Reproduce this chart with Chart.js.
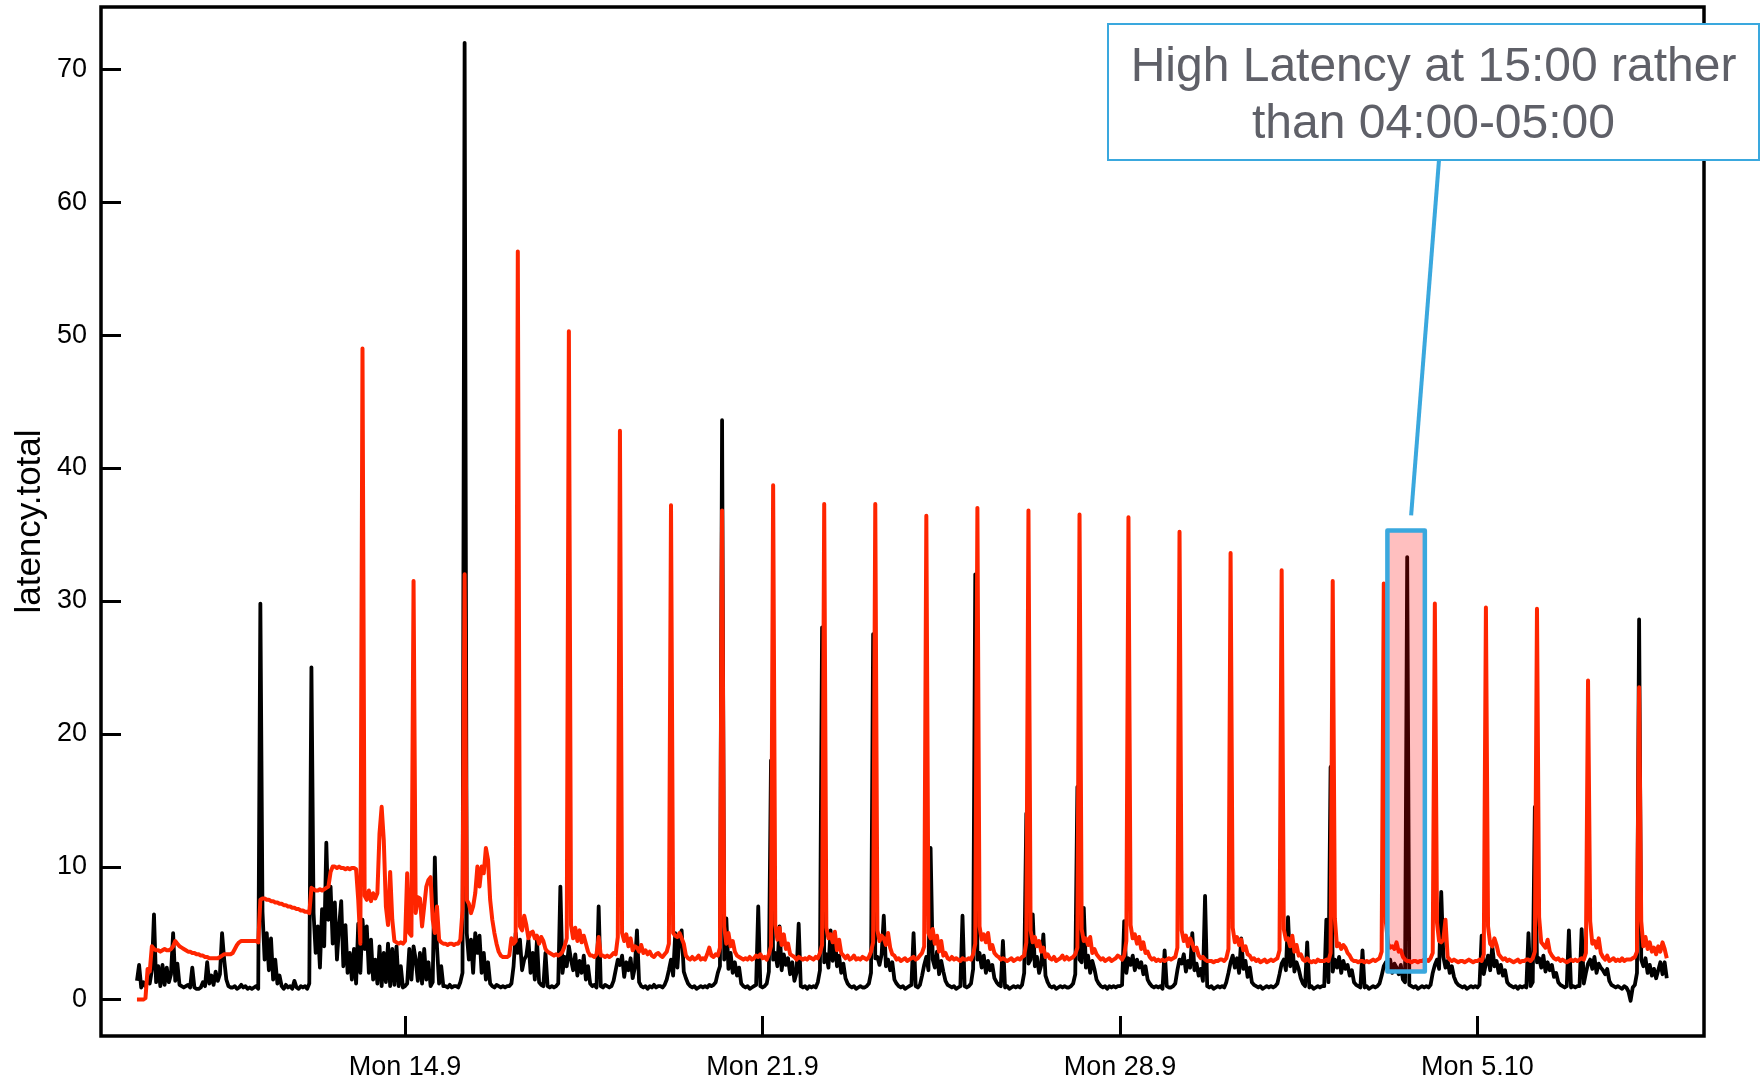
<!DOCTYPE html>
<html>
<head>
<meta charset="utf-8">
<title>latency.total</title>
<script src="https://cdn.jsdelivr.net/npm/chart.js@4.4.1/dist/chart.umd.min.js"></script>
<style>
  html, body { margin: 0; padding: 0; background: #fff; }
  canvas { display: block; }
</style>
</head>
<body>
<canvas id="latencyChart" width="1764" height="1079"></canvas>
<script>
// one row per day, hourly samples; day 0 is Mon 14.9, first row starts Tue 8.9 18:00
const firstDay = -6;
const firstHour = 18;

const redLatency = [
  [0, 0, 0, 0, 0.1, 2.3],
  [2.1, 4.0, 3.8, 3.7, 3.7, 3.6,  3.7, 3.8, 3.7, 3.7, 3.8, 4.0,  4.4, 4.2, 4.0, 3.9, 3.8, 3.7,  3.6, 3.6, 3.5, 3.5, 3.4, 3.4],
  [3.3, 3.3, 3.2, 3.2, 3.1, 3.1,  3.1, 3.1, 3.1, 3.2, 3.3, 3.4,  3.4, 3.4, 3.4, 3.5, 3.8, 4.1,  4.3, 4.4, 4.4, 4.4, 4.4, 4.4],
  [4.4, 4.4, 4.4, 4.3, 7.5, 7.6,  7.6, 7.5, 7.5, 7.4, 7.4, 7.3,  7.3, 7.2, 7.2, 7.1, 7.1, 7.0,  7.0, 6.9, 6.9, 6.8, 6.8, 6.7],
  [6.7, 6.6, 6.6, 6.5, 8.4, 8.3,  8.2, 8.2, 8.3, 8.2, 8.3, 8.4,  8.5, 9.6, 10.0, 10.0, 9.9, 10.0,  9.9, 9.9, 9.8, 9.9, 9.8, 9.9],
  [9.9, 9.8, 7.5, 4.2, 49.0, 7.8,  7.5, 8.2, 7.4, 8.0, 7.6, 8.0,  12.5, 14.5, 12.0, 7.0, 5.6, 9.6,  6.0, 4.4, 4.3, 4.2, 4.3, 4.2],
  [4.4, 9.5, 5.0, 4.8, 31.5, 6.5,  7.7, 7.6, 5.5, 7.0, 8.5, 9.0,  9.2, 6.0, 5.0, 7.0, 4.5, 4.3,  4.2, 4.2, 4.1, 4.2, 4.2, 4.1],
  [4.2, 4.2, 4.5, 6.7, 32.0, 7.5,  7.2, 6.5, 7.0, 8.0, 10.0, 8.5,  10.0, 9.5, 11.4, 10.5, 7.5, 6.0,  5.0, 4.2, 3.6, 3.3, 3.2, 3.2],
  [3.2, 3.3, 4.6, 4.2, 4.4, 56.3,  5.5, 5.2, 6.3, 5.6, 4.6, 5.0,  5.1, 4.6, 4.8, 4.2, 4.7, 4.4,  3.8, 3.6, 3.5, 3.4, 3.3, 3.4],
  [3.3, 3.4, 3.6, 4.0, 4.6, 50.3,  5.6, 4.6, 5.4, 4.4, 5.2, 4.3,  4.8, 4.2, 3.6, 3.3, 3.3, 3.2,  3.4, 4.7, 3.3, 3.3, 3.2, 3.3],
  [3.2, 3.3, 3.5, 3.4, 4.7, 42.8,  5.0, 4.4, 4.9, 4.0, 4.6, 3.7,  4.0, 3.9, 3.6, 4.1, 3.5, 3.7,  3.4, 3.6, 3.3, 3.2, 3.4, 3.5],
  [3.3, 3.2, 3.4, 3.6, 4.2, 37.2,  5.0, 4.8, 4.7, 5.0, 4.6, 4.2,  3.3, 3.1, 3.0, 3.2, 3.0, 3.1,  3.3, 3.0, 3.1, 3.0, 3.4, 3.9],
  [3.3, 3.2, 3.4, 3.3, 3.9, 36.8,  5.5, 4.2, 5.0, 4.0, 4.4, 3.6,  3.3, 3.2, 3.1, 3.0, 3.1, 3.0,  3.2, 3.0, 3.1, 3.3, 3.2, 3.4],
  [3.1, 3.2, 3.0, 3.4, 4.0, 38.7,  5.6, 4.5, 5.4, 4.1, 4.9, 3.8,  4.2, 3.4, 3.3, 3.2, 3.0, 3.2,  3.1, 3.0, 3.1, 3.0, 3.2, 3.1],
  [3.0, 3.2, 3.1, 3.5, 4.1, 37.3,  5.4, 4.6, 4.9, 4.3, 5.1, 3.7,  4.5, 3.5, 3.3, 3.1, 3.3, 3.0,  3.1, 3.3, 3.0, 3.1, 3.0, 3.2],
  [3.1, 3.0, 3.2, 3.6, 4.3, 37.3,  5.2, 4.4, 4.8, 4.6, 4.1, 5.0,  3.9, 3.4, 3.3, 3.0, 3.1, 2.9,  3.0, 3.1, 2.9, 3.0, 3.1, 3.2],
  [3.0, 3.1, 3.3, 3.5, 4.0, 36.4,  5.0, 4.6, 5.3, 4.2, 4.8, 3.6,  4.4, 3.3, 3.5, 3.1, 3.0, 3.2,  3.0, 3.1, 3.0, 2.9, 3.1, 3.0],
  [3.0, 3.1, 3.0, 3.4, 4.2, 37.0,  5.5, 4.5, 4.9, 4.3, 5.0, 3.8,  4.1, 3.5, 3.3, 3.2, 3.0, 3.1,  3.0, 2.9, 3.0, 3.1, 2.9, 3.0],
  [3.1, 3.0, 3.2, 3.3, 4.3, 36.8,  5.2, 4.3, 4.7, 4.0, 4.4, 3.6,  3.9, 3.2, 3.4, 3.1, 3.0, 3.2,  2.9, 3.0, 3.1, 3.3, 3.0, 3.2],
  [3.0, 3.1, 3.2, 3.4, 3.9, 36.5,  5.3, 4.4, 4.6, 4.1, 4.7, 3.5,  3.8, 3.4, 3.2, 3.0, 3.1, 2.9,  3.0, 3.1, 2.9, 3.0, 3.1, 3.3],
  [3.2, 3.0, 3.3, 4.4, 36.3, 5.6,  4.6, 4.9, 4.2, 4.7, 3.8, 4.3,  3.5, 3.6, 3.2, 3.0, 3.1, 2.9,  3.0, 2.9, 3.0, 2.9, 3.0, 3.1],
  [3.0, 3.1, 3.2, 3.9, 35.2, 5.2,  4.4, 4.8, 4.0, 4.6, 4.2, 3.7,  3.9, 3.3, 3.1, 3.2, 3.0, 2.9,  2.9, 2.9, 2.8, 2.9, 2.9, 3.0],
  [3.0, 2.9, 3.1, 3.8, 33.6, 5.4,  4.3, 4.7, 4.1, 4.5, 3.7, 4.0,  3.4, 3.3, 3.0, 3.1, 2.9, 3.0,  2.8, 2.9, 3.0, 2.8, 2.9, 3.0],
  [2.9, 3.0, 3.1, 3.7, 32.3, 5.3,  4.5, 4.6, 4.0, 4.8, 3.6, 4.1,  3.3, 3.4, 3.0, 2.9, 3.1, 2.9,  2.8, 2.9, 2.8, 3.0, 2.9, 2.9],
  [2.9, 3.0, 2.9, 3.5, 31.5, 6.1,  4.0, 4.2, 3.8, 4.1, 3.9, 3.5,  3.3, 3.0, 2.9, 2.9, 2.8, 2.9,  2.9, 2.8, 2.9, 2.8, 2.9, 3.0],
  [2.9, 3.0, 3.1, 3.6, 31.3, 5.8,  4.2, 3.9, 4.0, 3.8, 4.3, 3.6,  3.7, 3.2, 3.0, 2.9, 2.9, 2.8,  2.9, 2.9, 2.8, 2.9, 2.9, 3.0],
  [3.0, 2.9, 3.1, 3.5, 29.8, 5.8,  4.4, 4.3, 4.5, 6.0, 3.2, 3.0,  2.9, 3.0, 2.9, 2.8, 2.9, 2.9,  2.8, 2.9, 3.0, 2.9, 2.8, 2.9],
  [2.9, 3.0, 2.9, 3.4, 29.5, 5.5,  4.2, 4.0, 4.6, 4.1, 3.4, 3.2,  3.0, 3.1, 2.9, 3.0, 2.9, 2.8,  2.9, 3.0, 2.8, 2.9, 2.9, 3.0],
  [3.0, 2.9, 3.1, 3.6, 29.4, 6.2,  4.3, 4.1, 3.9, 4.5, 3.6, 3.3,  3.1, 3.0, 3.1, 2.9, 3.0, 2.9,  2.8, 2.9, 3.0, 2.9, 3.0, 2.9],
  [3.0, 3.1, 3.0, 3.5, 24.0, 5.9,  4.2, 4.4, 3.9, 4.6, 3.5, 3.2,  3.0, 3.3, 2.9, 3.0, 3.1, 2.9,  3.0, 2.9, 3.1, 2.9, 3.0, 3.0],
  [3.0, 3.1, 3.2, 3.6, 23.5, 5.9,  4.0, 4.7, 3.8, 4.3, 3.6, 3.9,  3.4, 4.0, 3.6, 4.3, 3.8, 3.1]
];

const blackLatency = [
  [1.4, 2.6, 0.9, 1.3, 1.0, 1.6],
  [1.2, 2.2, 6.4, 1.3, 2.5, 1.0,  2.6, 1.1, 2.4, 1.3, 1.9, 5.0,  1.4, 2.7, 1.1, 1.0, 0.9, 1.0,  1.1, 0.9, 2.4, 0.9, 0.8, 0.8],
  [0.9, 1.3, 1.0, 2.8, 1.2, 1.8,  1.1, 2.1, 1.4, 1.9, 5.0, 3.0,  1.5, 1.0, 0.9, 0.9, 1.0, 0.8,  0.9, 1.1, 0.9, 1.0, 0.8, 0.9],
  [0.8, 0.9, 1.0, 0.8, 29.8, 6.6,  3.0, 5.0, 2.2, 4.6, 1.5, 3.0,  1.2, 1.8, 1.0, 0.8, 1.1, 0.9,  1.0, 0.8, 1.4, 0.9, 0.8, 1.0],
  [0.9, 1.0, 0.8, 1.2, 25.0, 6.5,  3.5, 5.5, 2.4, 6.8, 4.0, 11.8,  6.0, 8.5, 4.2, 7.3, 3.0, 5.5,  7.4, 2.5, 5.6, 2.0, 3.5, 1.5],
  [3.8, 1.2, 5.7, 2.0, 6.0, 3.8,  5.5, 2.0, 4.5, 1.5, 3.0, 1.2,  4.0, 1.0, 3.5, 1.3, 4.2, 1.0,  3.8, 1.1, 4.0, 1.0, 2.5, 0.9],
  [1.0, 1.2, 3.8, 1.5, 4.0, 3.0,  1.4, 3.5, 1.2, 3.8, 1.5, 2.8,  1.0, 1.3, 10.7, 4.0, 1.2, 2.5,  1.0, 1.0, 0.9, 1.1, 0.9, 1.0],
  [1.0, 0.9, 1.3, 2.0, 72.0, 5.0,  3.0, 4.5, 2.0, 5.0, 3.5, 4.8,  2.0, 3.5, 1.5, 2.8, 1.2, 1.0,  0.9, 1.1, 1.0, 0.9, 1.0, 0.9],
  [1.0, 1.0, 1.2, 2.5, 5.0, 3.5,  4.5, 2.2, 3.0, 3.3, 4.5, 2.0,  3.5, 1.5, 4.5, 1.3, 1.1, 1.0,  3.5, 1.0, 0.9, 1.0, 0.9, 1.0],
  [1.2, 8.5, 2.0, 3.2, 2.5, 4.0,  3.0, 2.2, 3.4, 1.8, 2.9, 2.0,  3.3, 1.5, 2.5, 1.2, 1.0, 1.1,  0.9, 7.0, 1.0, 0.9, 1.1, 1.0],
  [0.9, 1.0, 1.4, 2.2, 3.0, 2.6,  3.3, 1.7, 2.8, 2.2, 3.1, 1.6,  2.4, 5.2, 1.3, 1.0, 0.9, 1.0,  0.8, 1.0, 0.9, 1.1, 0.9, 1.0],
  [1.0, 0.9, 1.1, 1.5, 2.2, 3.0,  1.8, 5.0, 2.4, 4.8, 5.2, 2.1,  1.6, 1.2, 1.0, 0.9, 1.0, 0.8,  0.9, 1.0, 0.9, 1.0, 0.9, 1.1],
  [1.0, 1.1, 1.3, 2.0, 2.5, 43.6,  3.0, 6.1, 2.3, 3.5, 2.0, 2.8,  1.8, 2.4, 1.2, 1.0, 0.9, 1.0,  0.8, 0.9, 1.0, 1.1, 7.0, 1.0],
  [0.9, 1.0, 1.2, 2.1, 18.0, 3.0,  3.5, 2.5, 5.5, 2.2, 3.4, 2.6,  3.1, 1.9, 2.8, 1.4, 2.0, 5.7,  1.0, 0.9, 1.0, 0.8, 1.0, 0.9],
  [1.0, 0.9, 1.3, 2.2, 28.0, 2.8,  3.4, 2.4, 5.2, 2.9, 5.0, 2.5,  3.3, 2.0, 2.7, 1.6, 1.2, 1.0,  0.9, 1.0, 0.8, 0.9, 1.0, 0.9],
  [0.9, 1.0, 1.2, 2.0, 27.5, 3.1,  3.2, 2.6, 3.4, 6.3, 2.5, 3.0,  2.2, 2.8, 1.5, 1.2, 1.0, 0.9,  1.0, 0.8, 0.9, 1.0, 1.1, 5.0],
  [1.0, 0.9, 1.1, 1.8, 2.6, 3.2,  2.2, 11.4, 3.0, 2.4, 3.6, 1.9,  2.9, 2.1, 1.4, 1.1, 1.0, 0.9,  1.0, 0.8, 0.9, 1.0, 6.3, 1.0],
  [0.9, 1.0, 1.2, 2.3, 32.0, 3.0,  3.5, 2.4, 3.3, 2.0, 2.9, 2.2,  2.6, 1.6, 1.3, 1.1, 1.0, 4.4,  0.9, 1.0, 0.8, 0.9, 1.0, 0.9],
  [1.0, 0.9, 1.1, 2.0, 14.0, 2.7,  3.0, 6.4, 2.5, 3.2, 2.0, 2.6,  4.9, 1.8, 1.3, 1.0, 0.9, 1.0,  0.8, 0.9, 1.0, 0.9, 1.0, 0.9],
  [0.9, 1.0, 1.2, 1.9, 16.0, 3.0,  2.8, 6.9, 2.4, 3.3, 2.0, 2.9,  2.3, 1.5, 1.2, 1.0, 0.9, 1.0,  0.8, 1.0, 0.9, 1.0, 0.9, 1.0],
  [1.0, 1.1, 5.9, 2.0, 3.1, 2.6,  3.3, 2.2, 3.0, 2.4, 2.8, 1.9,  2.5, 1.5, 1.2, 1.0, 0.9, 1.0,  0.9, 1.0, 0.8, 3.7, 1.0, 0.9],
  [0.9, 1.0, 1.2, 2.2, 3.0, 2.7,  3.4, 2.1, 2.9, 2.4, 5.0, 2.2,  2.7, 1.8, 2.3, 1.4, 7.8, 1.0,  0.9, 1.0, 0.8, 0.9, 1.0, 0.9],
  [1.0, 0.9, 1.3, 2.0, 2.8, 3.3,  2.4, 3.1, 2.0, 4.6, 2.3, 2.9,  1.7, 2.4, 1.3, 1.1, 1.0, 0.9,  1.0, 0.8, 0.9, 1.0, 0.9, 1.0],
  [0.9, 1.0, 1.2, 1.9, 2.7, 3.0,  2.2, 6.2, 2.5, 4.2, 2.1, 2.8,  2.3, 1.6, 1.2, 1.0, 4.3, 0.9,  1.0, 0.8, 0.9, 1.0, 0.9, 1.0],
  [1.0, 6.0, 1.3, 17.5, 2.1, 3.0,  2.4, 3.2, 2.0, 2.9, 2.3, 2.6,  1.8, 2.2, 1.3, 1.1, 1.0, 0.9,  3.7, 0.9, 1.0, 0.8, 0.9, 1.0],
  [0.9, 1.0, 1.2, 1.8, 2.5, 2.8,  2.2, 3.0, 2.0, 2.7, 2.4, 1.9,  2.6, 1.5, 1.3, 33.3, 1.1, 1.0,  0.9, 1.0, 0.8, 0.9, 1.0, 0.9],
  [1.0, 0.9, 1.1, 2.0, 2.6, 3.0,  2.3, 8.1, 3.2, 2.4, 2.9, 2.0,  2.5, 1.7, 1.3, 1.1, 1.0, 0.9,  1.0, 0.8, 0.9, 1.0, 0.9, 1.0],
  [0.9, 1.1, 4.8, 1.9, 2.7, 3.3,  2.2, 4.0, 2.5, 2.9, 2.0, 2.6,  1.8, 2.2, 1.3, 1.1, 1.0, 0.9,  1.0, 0.8, 1.0, 0.9, 1.0, 0.9],
  [5.0, 1.0, 1.3, 14.5, 2.8, 3.1,  2.4, 3.3, 2.1, 2.8, 2.2, 2.6,  1.7, 2.0, 1.3, 1.1, 1.0, 0.9,  1.0, 5.2, 0.9, 1.0, 0.9, 1.0],
  [1.0, 5.3, 1.2, 2.0, 2.7, 3.0,  2.3, 3.2, 2.0, 2.7, 2.4, 2.2,  1.9, 2.3, 1.4, 1.1, 1.0, 0.9,  1.0, 0.9, 0.8, 1.0, 0.9, 0.6],
  [-0.1, 0.9, 1.1, 2.0, 28.6, 3.0,  2.5, 3.1, 2.0, 2.6, 1.8, 2.3,  1.6, 2.2, 2.8, 1.9, 2.8, 1.6]
];

const weekdays = ['Sun', 'Mon', 'Tue', 'Wed', 'Thu', 'Fri', 'Sat'];
const hoursShown = [-142.9, 610.5];     // x axis range, hours from Mon 14.9 00:00
const latencyShown = [-2.75, 74.7];
const highlightHours = [461.7, 479.3];  // Sat 3.10, around 15:00
const highlightLatency = [2.1, 35.3];
const noteLines = ['High Latency at 15:00 rather', 'than 04:00-05:00'];

const blue = '#3aa8de';
const fontFamily = '"Liberation Sans", Arial, Helvetica, sans-serif';

function toPoints(rows) {
  const pts = [];
  rows.forEach((row, i) => {
    const start = (firstDay + i) * 24 + (i === 0 ? firstHour : 0);
    row.forEach((v, j) => pts.push({x: start + j, y: v}));
  });
  return pts;
}

function dayLabel(value) {
  if (value % 168 !== 0) return null;
  const d = new Date(2015, 8, 14 + value / 24);
  return weekdays[d.getDay()] + ' ' + d.getDate() + '.' + (d.getMonth() + 1);
}

const decorations = {
  id: 'decorations',
  afterDatasetsDraw(chart) {
    const {ctx, chartArea: a} = chart;
    const x = chart.scales.x, y = chart.scales.y;
    ctx.save();

    // highlighted hour
    const hx0 = x.getPixelForValue(highlightHours[0]);
    const hx1 = x.getPixelForValue(highlightHours[1]);
    const hy0 = y.getPixelForValue(highlightLatency[1]);
    const hy1 = y.getPixelForValue(highlightLatency[0]);
    ctx.fillStyle = 'rgba(255, 0, 0, 0.25)';
    ctx.fillRect(hx0, hy0, hx1 - hx0, hy1 - hy0);
    ctx.strokeStyle = blue;
    ctx.lineWidth = 4.5;
    ctx.lineJoin = 'round';
    ctx.strokeRect(hx0, hy0, hx1 - hx0, hy1 - hy0);

    // frame
    ctx.strokeStyle = '#000';
    ctx.lineWidth = 3.5;
    ctx.lineJoin = 'miter';
    ctx.strokeRect(a.left, a.top, a.right - a.left, a.bottom - a.top);

    // inward tick marks
    y.ticks.forEach(t => {
      const py = Math.round(y.getPixelForValue(t.value)) + 0.5;
      const major = t.value % 10 === 0;
      ctx.lineWidth = major ? 3 : 2;
      ctx.beginPath();
      ctx.moveTo(a.left, py);
      ctx.lineTo(a.left + (major ? 20 : 11), py);
      ctx.stroke();
    });
    x.ticks.forEach(t => {
      const px = Math.round(x.getPixelForValue(t.value)) + 0.5;
      const major = t.value % 168 === 0;
      ctx.lineWidth = major ? 3 : 2;
      ctx.beginPath();
      ctx.moveTo(px, a.bottom);
      ctx.lineTo(px, a.bottom - (major ? 20 : 11));
      ctx.stroke();
    });

    // callout
    const box = {left: 1108, top: 24, right: 1759, bottom: 160};
    ctx.strokeStyle = blue;
    ctx.lineWidth = 4;
    ctx.lineCap = 'butt';
    ctx.beginPath();
    ctx.moveTo(1439, box.bottom);
    ctx.lineTo((hx0 + hx1) / 2 + 5, hy0 - 15);
    ctx.stroke();

    ctx.fillStyle = '#fff';
    ctx.fillRect(box.left, box.top, box.right - box.left, box.bottom - box.top);
    ctx.lineWidth = 2;
    ctx.strokeRect(box.left, box.top, box.right - box.left, box.bottom - box.top);
    ctx.fillStyle = '#5f6068';
    ctx.font = '48px ' + fontFamily;
    ctx.textAlign = 'center';
    ctx.textBaseline = 'alphabetic';
    const cx = (box.left + box.right) / 2;
    ctx.fillText(noteLines[0], cx, 81);
    ctx.fillText(noteLines[1], cx, 138);

    ctx.restore();
  }
};

const ctx = document.getElementById('latencyChart');

new Chart(ctx, {
  type: 'line',
  data: {
    datasets: [
      {
        label: 'latency.total 04:00',
        data: toPoints(redLatency),
        borderColor: '#ff2500',
        borderWidth: 4,
        pointRadius: 0,
        borderJoinStyle: 'round',
        order: 0
      },
      {
        label: 'latency.total',
        data: toPoints(blackLatency),
        borderColor: '#000',
        borderWidth: 3.8,
        pointRadius: 0,
        borderJoinStyle: 'round',
        order: 1
      }
    ]
  },
  options: {
    responsive: false,
    animation: false,
    events: [],
    layout: { padding: { top: 7, right: 60, left: 0, bottom: 0 } },
    plugins: {
      legend: { display: false },
      tooltip: { enabled: false }
    },
    scales: {
      x: {
        type: 'linear',
        min: hoursShown[0],
        max: hoursShown[1],
        grid: { display: false },
        border: { display: false },
        ticks: {
          stepSize: 24,
          includeBounds: false,
          autoSkip: false,
          maxRotation: 0,
          padding: 7,
          color: '#000',
          font: { family: fontFamily, size: 27 },
          callback: dayLabel
        },
        afterFit: s => { s.height = 43; s.paddingLeft = 0; s.paddingRight = 0; }
      },
      y: {
        min: latencyShown[0],
        max: latencyShown[1],
        grid: { display: false },
        border: { display: false },
        ticks: {
          stepSize: 2,
          includeBounds: false,
          autoSkip: false,
          padding: 6,
          color: '#000',
          font: { family: fontFamily, size: 27 },
          callback: v => (v % 10 === 0 ? String(v) : null)
        },
        title: {
          display: true,
          text: 'latency.total',
          color: '#000',
          font: { family: fontFamily, size: 35 },
          padding: { top: 9, bottom: 0 }
        },
        afterFit: s => { s.width = 101; s.paddingTop = 0; s.paddingBottom = 0; }
      }
    }
  },
  plugins: [decorations]
});
</script>
</body>
</html>
